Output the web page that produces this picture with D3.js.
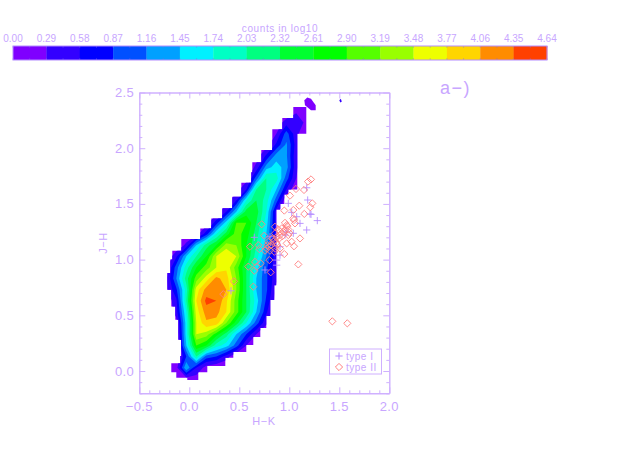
<!DOCTYPE html>
<html><head><meta charset="utf-8">
<script src="https://cdn.jsdelivr.net/npm/d3@7"></script>
<style>html,body{margin:0;padding:0;background:#fff}svg{display:block}text{font-family:"Liberation Sans",sans-serif;fill:#c8a6ff}</style>
</head><body><svg id="c" width="628" height="463"></svg>
<script>
// colour bar
const barLabels=["0.00","0.29","0.58","0.87","1.16","1.45","1.74","2.03","2.32","2.61","2.90","3.19","3.48","3.77","4.06","4.35","4.64"];
const bandColors=["#7f00ff","#3300ff","#0000ff","#0050ff","#00a0ff","#00f0ff","#00ffc4","#00ff80","#00ff30","#00ff00","#55ff00","#99ff00","#eeff00","#ffd500","#ff8c00","#ff4000"];
// density grid, in colour-band units (1 band = 0.29 dex); rows bottom-up, J-H = -0.07 + 0.1*row; columns H-K = -0.23 + 0.1*col
const densityRows=[
[0,0,.5,.5,0,0,0,0,0,0,0,0,0,0,0],
[0,.5,5,2,.5,0,0,0,0,0,0,0,0,0,0],
[0,0,3,7,3.5,3,1.5,0,0,0,0,0,0,0,0],
[0,0,5,10,9,6.5,5.5,3.5,1,0,0,0,0,0,0],
[0,0,5.5,12,11.5,9.5,7.5,5,3,1,0,0,0,0,0],
[0,.5,5.5,12,13.8,13.6,11,8.5,6,3.5,1.2,0,0,0,0],
[0,1.5,6,12.5,14.5,14.4,13,10.5,8,5,2.2,0,0,0,0],
[0,1.8,7,13,15.3,15,13.2,10.5,8,5.5,2.8,.5,0,0,0],
[.8,2.8,6.5,12.5,14.4,14.9,14,11,8,5,3.2,.8,0,0,0],
[.8,4,7.5,10.5,12.5,14.3,13.5,11,8,5,3.2,1.2,0,0,0],
[.5,3.5,6.5,9,10.5,12,12.8,10.5,8,5.5,3.2,1.2,0,0,0],
[0,1.8,5,7,9,12,13,12,9,6.5,4,1.3,0,0,0],
[0,0,1.3,5,7.5,9,11.5,11,9,7,4.5,1.5,0,0,0],
[0,0,0,.5,2.5,6,8.5,10.5,9.5,7.5,5,1.5,0,0,0],
[0,0,0,0,.5,2.5,5.5,10,10,8,5.5,1.5,0,0,0],
[0,0,0,0,0,.5,2,5,8.5,8.5,6,1.5,0,0,0],
[0,0,0,0,0,0,.5,2,6,8,6.5,3.5,0,0,0],
[0,0,0,0,0,0,0,.5,2,7,7,5,2,0,0],
[0,0,0,0,0,0,0,0,.5,3.5,7,6.5,3.5,1,0],
[0,0,0,0,0,0,0,0,0,1.3,4.5,5.5,4.5,1.2,0],
[0,0,0,0,0,0,0,0,0,.5,2.2,4.5,4.2,1.2,0],
[0,0,0,0,0,0,0,0,0,0,.5,2.2,4.2,1.5,0],
[0,0,0,0,0,0,0,0,0,0,0,1,3.5,1.3,0],
[0,0,0,0,0,0,0,0,0,0,0,.3,1.5,2,.6],
[0,0,0,0,0,0,0,0,0,0,0,0,0,.8,.6]];
// outer edge of the lowest contour
const leftEdgeJ=[-.08,-.06,-.01,.07,.135,.28,.46,.58,.73,.88,1,1.08,1.185,1.28,1.37,1.46,1.565,1.69,1.785,1.875,1.985,2.07,2.17,2.27,2.37];
const leftEdgeH=[-.02,-.13,-.18,-.09,-.08,-.11,-.14,-.18,-.22,-.19,-.17,-.08,.11,.22,.33,.43,.52,.62,.63,.72,.83,.83,.93,1.04];
const rightEdgeJ=[-.08,-.01,.045,.118,.17,.233,.305,.386,.494,.637,.77,1.45,1.5,1.585,1.63,2.13,2.37];
const rightEdgeH=[.09,.18,.36,.44,.57,.64,.71,.77,.81,.85,.87,.91,.95,.99,1.08,1.17];
const blobH=[1.15,1.18,1.217,1.264,1.264,1.217,1.157];
const blobJ=[2.43,2.455,2.445,2.385,2.34,2.34,2.385];
const dotH=[1.50,1.515,1.525,1.51];
const dotJ=[2.43,2.445,2.42,2.41];
// type II (diamonds)
const type2H=[1.217,1.187,1.067,1.147,1.007,1.23,1.21,1.10,1.04,.95,1.15,1.04,1.047,.957,.724,.974,.924,.99,.89,.94,.857,.907,.75,.857,.84,.99,1.024,1.107,1.047,.974,.607,.69,.70,.774,.757,.807,.85,.907,.95,.80,.657,.714,.59,.674,.65,1.09,.814,.447,.64,.34,1.43,1.58,.874,.857,.79,1.057,.82,.87,.90,.93,.96,.88,.83,.91,.98,1.0,.86,.80,.78];
const type2J=[1.72,1.70,1.634,1.625,1.574,1.505,1.47,1.484,1.445,1.44,1.41,1.37,1.355,1.33,1.317,1.31,1.28,1.27,1.27,1.25,1.236,1.22,1.215,1.176,1.16,1.22,1.16,1.19,1.12,1.146,1.116,1.13,1.095,1.10,1.08,1.08,1.07,1.10,1.05,.996,.98,.966,.937,.937,.90,.957,.886,.805,.757,.69,.446,.428,1.205,1.295,1.16,1.325,1.13,1.15,1.19,1.21,1.27,1.13,1.19,1.25,1.30,1.24,1.10,1.12,1.13];
// type I (plus signs)
const type1H=[.65,1.28,1.174,1.217,1.184,.99,1.024,1.174,1.207,1.107,1.04,.974,.907,.874,.874,.807,.757,.417,.907,.957,1.074];
const type1J=[1.2,1.35,1.266,1.406,1.535,1.505,1.424,1.645,1.41,1.325,1.236,1.25,1.04,.996,.95,1.205,.907,.72,1.116,1.22,1.385];
const xMajor=[-.5,0,.5,1,1.5,2], yMajor=[0,.5,1,1.5,2,2.5];
const xTickLabels=["\u22120.5","0.0","0.5","1.0","1.5","2.0"], yTickLabels=["0.0","0.5","1.0","1.5","2.0","2.5"];
const legendNames=["type I","type II"];

const axisColor="#cfb0ff", red="#ff8080", plusColor="#b48cff";
const svg=d3.select("#c");
const x=d3.scaleLinear().domain([-.5,2]).range([139.3,389.3]);
const y=d3.scaleLinear().domain([-.2,2.5]).range([393.3,92.5]);

// colour bar
const cb=d3.scaleLinear().domain([0,4.64]).range([13,547]);
const lv=barLabels.map(Number);
svg.append("g").selectAll("rect").data(bandColors).join("rect")
 .attr("x",(d,i)=>cb(lv[i])).attr("width",(d,i)=>cb(lv[i+1])-cb(lv[i])+.3).attr("y",46).attr("height",14).attr("fill",d=>d);
const mids=[];lv.forEach((v,i)=>{mids.push(v);if(i<lv.length-1)mids.push((v+lv[i+1])/2)});
const tk=svg.append("g").attr("stroke","#7a6ae0").attr("stroke-opacity",.35);
mids.forEach(m=>{tk.append("line").attr("x1",cb(m)).attr("x2",cb(m)).attr("y1",46).attr("y2",48);tk.append("line").attr("x1",cb(m)).attr("x2",cb(m)).attr("y1",58).attr("y2",60)});
svg.append("rect").attr("x",13).attr("y",46).attr("width",534).attr("height",14).attr("fill","none").attr("stroke","#b48cff");
svg.append("g").selectAll("text").data(barLabels).join("text").attr("x",d=>cb(+d)).attr("y",42).attr("text-anchor","middle").attr("font-size",10).text(d=>d);
svg.append("text").attr("x",280).attr("y",32).attr("text-anchor","middle").attr("font-size",10).attr("letter-spacing",.6).text("counts in log10");
svg.append("text").attr("x",440).attr("y",94).attr("font-size",18).attr("letter-spacing",1.5).text("a\u2212)");

// density
const stair=(js,hs)=>{const p=[];hs.forEach((h,i)=>{p.push([h,js[i]]);p.push([h,js[i+1]])});return p};
const outer=stair(leftEdgeJ,leftEdgeH).concat(stair(rightEdgeJ,rightEdgeH).reverse());
const poly=d3.line().x(d=>x(d[0])).y(d=>y(d[1]));
svg.append("clipPath").attr("id","oc").append("path").attr("d",poly(outer)+"Z");
const plot=svg.append("g");
plot.append("path").attr("d",poly(outer)+"Z").attr("fill",bandColors[0]);
plot.append("path").attr("d",poly(blobH.map((h,i)=>[h,blobJ[i]]))+"Z").attr("fill",bandColors[0]);
plot.append("path").attr("d",poly(dotH.map((h,i)=>[h,dotJ[i]]))+"Z").attr("fill",bandColors[1]);
const nr=densityRows.length,nc=densityRows[0].length;
const path=d3.geoPath(d3.geoTransform({point(a,b){this.stream.point(x(-.28+a*.1),y(-.12+b*.1))}}));
const contours=d3.contours().size([nc,nr]).thresholds(d3.range(1,16))(densityRows.flat());
plot.append("g").attr("clip-path","url(#oc)").selectAll("path").data(contours).join("path")
 .attr("d",path).attr("fill",d=>bandColors[d.value]);

// axes
const minorX=d3.range(-.5,2.01,.1).map(v=>+v.toFixed(2)), minorY=d3.range(-.2,2.51,.1).map(v=>+v.toFixed(2));
const isMajor=(arr,v)=>arr.some(m=>Math.abs(m-v)<1e-6);
for(const [sc,vals,maj,gen,tx,sign] of [
 [x,minorX,xMajor,d3.axisBottom,`translate(0,393.3)`,-1],
 [x,minorX,xMajor,d3.axisTop,`translate(0,92.5)`,1],
 [y,minorY,yMajor,d3.axisLeft,`translate(139.3,0)`,1],
 [y,minorY,yMajor,d3.axisRight,`translate(389.3,0)`,-1]]){
 const g=svg.append("g").attr("transform",tx).call(gen(sc).tickValues(vals).tickSize(0).tickSizeOuter(0).tickFormat(""));
 g.select(".domain").attr("stroke",axisColor).attr("stroke-width",1.4);
 g.selectAll(".tick line").attr("stroke",axisColor);
 const vertical=(gen===d3.axisLeft||gen===d3.axisRight);
 g.selectAll(".tick line").each(function(v){
  const len=(isMajor(maj,v)?6:3)*sign;
  d3.select(this).attr(vertical?"x2":"y2",len).attr(vertical?"y2":"x2",0);
 });
}
svg.append("g").selectAll("text").data(xMajor).join("text").attr("x",d=>x(d)).attr("y",411).attr("text-anchor","middle").attr("font-size",13).attr("letter-spacing",.3).text((d,i)=>xTickLabels[i]);
svg.append("g").selectAll("text").data(yMajor).join("text").attr("x",134).attr("y",d=>y(d)+4.5).attr("text-anchor","end").attr("font-size",13).attr("letter-spacing",.3).text((d,i)=>yTickLabels[i]);
svg.append("text").attr("x",264).attr("y",425).attr("text-anchor","middle").attr("font-size",11).attr("letter-spacing",.6).text("H\u2212K");
svg.append("text").attr("transform","translate(107,243) rotate(-90)").attr("text-anchor","middle").attr("font-size",11).attr("letter-spacing",.6).text("J\u2212H");

// markers
const diamond="M0,-3.6L3.6,0L0,3.6L-3.6,0Z", plus="M-3.6,0H3.6M0,-3.6V3.6";
svg.append("g").selectAll("path").data(type1H).join("path").attr("transform",(d,i)=>`translate(${x(d)},${y(type1J[i])})`).attr("d",plus).attr("fill","none").attr("stroke",plusColor).attr("stroke-width",.9);
svg.append("g").selectAll("path").data(type2H).join("path").attr("transform",(d,i)=>`translate(${x(d)},${y(type2J[i])})`).attr("d",diamond).attr("fill","none").attr("stroke",red).attr("stroke-width",.9);

// legend
svg.append("rect").attr("x",329.5).attr("y",349).attr("width",52).attr("height",25).attr("fill","none").attr("stroke",axisColor);
svg.append("path").attr("transform","translate(339,356)").attr("d",plus).attr("fill","none").attr("stroke",plusColor);
svg.append("path").attr("transform","translate(339,367)").attr("d",diamond).attr("fill","none").attr("stroke",red);
svg.append("g").selectAll("text").data(legendNames).join("text").attr("x",346).attr("y",(d,i)=>360+i*10.5).attr("font-size",10).attr("letter-spacing",.5).text(d=>d);
</script></body></html>
